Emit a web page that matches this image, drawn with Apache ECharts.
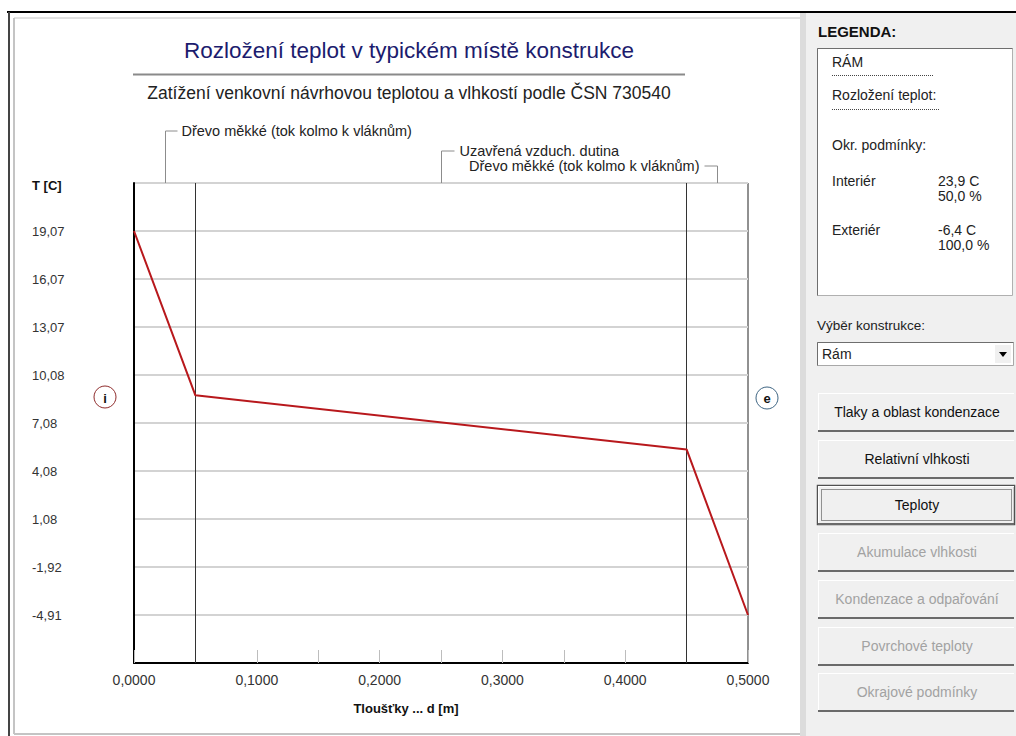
<!DOCTYPE html>
<html>
<head>
<meta charset="utf-8">
<script src="https://cdn.jsdelivr.net/npm/echarts@6/dist/echarts.min.js"></script>
<style>
  html, body { margin: 0; padding: 0; background: #ffffff; }
  #chart { width: 1016px; height: 736px; }
</style>
</head>
<body>
<div id="chart"></div>
<script>
// Wall section: layer interfaces [m] and the layer materials between them
const layerBounds = [0, 0.05, 0.45, 0.5];
const layerNames = [
  'Dřevo měkké (tok kolmo k vláknům)',
  'Uzavřená vzduch. dutina',
  'Dřevo měkké (tok kolmo k vláknům)'
];

// Temperature profile through the section
const thickness = [0, 0.05, 0.45, 0.5];          // d [m]
const temperature = [19.07, 8.81, 5.43, -4.91];   // T [C]

// Axis tick labels
const yTickValues = [-4.91, -1.92, 1.08, 4.08, 7.08, 10.08, 13.07, 16.07, 19.07];
const xTickValues = [0, 0.1, 0.2, 0.3, 0.4, 0.5];

// Texts
const titleText = 'Rozložení teplot v typickém místě konstrukce';
const subtitleText = 'Zatížení venkovní návrhovou teplotou a vlhkostí podle ČSN 730540';
const yAxisTitle = 'T [C]';
const xAxisTitle = 'Tloušťky ... d [m]';

// Side panel: boundary conditions and commands
const legendTitle = 'LEGENDA:';
const constructionName = 'RÁM';
const legendHeading = 'Rozložení teplot:';
const conditionsHeading = 'Okr. podmínky:';
const conditionNames = ['Interiér', 'Exteriér'];
const conditionTemps = ['23,9 C', '-6,4 C'];
const conditionHumidity = ['50,0 %', '100,0 %'];
const selectorLabel = 'Výběr konstrukce:';
const selectorValue = 'Rám';
const buttonLabels = [
  'Tlaky a oblast kondenzace',
  'Relativní vlhkosti',
  'Teploty',
  'Akumulace vlhkosti',
  'Kondenzace a odpařování',
  'Povrchové teploty',
  'Okrajové podmínky'
];
const buttonEnabled = [true, true, true, false, false, false, false];
const activeButton = 2;

const FONT = '"Liberation Sans", Arial, sans-serif';
const comma = (v, n) => v.toFixed(n).replace('.', ',');

const step = (yTickValues[yTickValues.length - 1] - yTickValues[0]) / (yTickValues.length - 1);
const yMin = yTickValues[0] - step;
const yMax = yMin + (yTickValues.length + 1) * step;

const chart = echarts.init(document.getElementById('chart'), null, { renderer: 'svg' });

chart.setOption({
  animation: false,
  grid: {
    left: 134, top: 183, width: 614, height: 480,
    show: true, backgroundColor: '#ffffff', borderColor: '#222222', borderWidth: 1
  },
  xAxis: {
    type: 'value', min: 0, max: 0.5, interval: 0.05,
    axisLine: { onZero: false, lineStyle: { color: '#000000', width: 2 } },
    axisTick: { inside: true, length: 13, lineStyle: { color: '#bdbdbd', width: 1 } },
    splitLine: { show: false },
    axisLabel: {
      margin: 10, fontSize: 14, color: '#333333', fontFamily: FONT,
      formatter: v => {
        const hit = xTickValues.find(t => Math.abs(t - v) < 1e-9);
        return hit === undefined ? '' : comma(hit, 4);
      }
    }
  },
  yAxis: {
    type: 'value', min: yMin, max: yMax, interval: step,
    axisLine: { show: true, onZero: false, lineStyle: { color: '#000000', width: 2 } },
    axisTick: { show: false },
    splitLine: { lineStyle: { color: '#d3d3d3', width: 2 } },
    axisLabel: {
      margin: 102, align: 'left', fontSize: 13, color: '#333333', fontFamily: FONT,
      formatter: v => {
        const i = Math.round((v - yMin) / step) - 1;
        return (i >= 0 && i < yTickValues.length) ? comma(yTickValues[i], 2) : '';
      }
    }
  },
  series: [{
    type: 'line',
    data: thickness.map((d, i) => [d, temperature[i]]),
    symbol: 'none',
    lineStyle: { color: '#b8181c', width: 2 },
    z: 5,
    markLine: {
      silent: true, symbol: 'none', label: { show: false },
      lineStyle: { color: '#333333', width: 1, type: 'solid' },
      data: layerBounds.slice(1, -1).map(x => ({ xAxis: x }))
    }
  }]
});

// ---- decorations drawn around the plot ----
const g = [];
const txt = (x, y, text, o = {}) => g.push({
  type: 'text', x, y, silent: true, z: o.z || 10,
  style: {
    text, fill: o.fill || '#222222',
    font: (o.weight || 'normal') + ' ' + (o.size || 13) + 'px ' + FONT,
    align: o.align || 'left', verticalAlign: 'middle'
  }
});
const line = (x1, y1, x2, y2, stroke, w = 1, dash) => g.push({
  type: 'line', silent: true, z: 10,
  shape: { x1, y1, x2, y2 },
  style: { stroke, lineWidth: w, lineDash: dash || null }
});
const rect = (x, y, w, h, fill, stroke, lw = 1, z = 1) => g.push({
  type: 'rect', silent: true, z,
  shape: { x, y, width: w, height: h },
  style: { fill: fill || 'none', stroke: stroke || 'none', lineWidth: lw }
});

// window frame
rect(806, 13, 210, 723, '#f0f0f0', null, 0, 0);
rect(800, 13, 6, 723, '#dcdcdc', null, 0, 0);
line(7, 12, 1016, 12, '#000000', 2);
line(9, 12, 9, 736, '#444444', 2);
line(14, 18, 14, 734, '#c4c4c4', 2);
line(14, 18, 800, 18, '#c4c4c4', 1);
line(14, 734, 800, 734, '#c4c4c4', 2);

// titles
const headCx = 409;
txt(headCx, 50, titleText, { size: 22.5, fill: '#1c1c6e', align: 'center' });
line(133, 74.5, 685, 74.5, '#8a8a8a', 2);
txt(headCx, 93, subtitleText, { size: 17.5, fill: '#222222', align: 'center' });

// axis titles
txt(32, 185, yAxisTitle, { size: 13, weight: 'bold', fill: '#111111' });
txt(406, 708, xAxisTitle, { size: 13, weight: 'bold', fill: '#111111', align: 'center' });

// layer names with leader hooks pointing to each layer's middle
const plotTop = 183;
const mid = i => chart.convertToPixel({ xAxisIndex: 0 }, (layerBounds[i] + layerBounds[i + 1]) / 2);
const hookColor = '#8c8c8c';
const layerFont = 14.5;
{
  const x = Math.round(mid(0)) + 0.5, y = 131;
  line(x, y, x, plotTop, hookColor); line(x, y, x + 12, y, hookColor);
  txt(x + 16, y, layerNames[0], { size: layerFont });
}
{
  const x = Math.round(mid(1)) + 0.5, y = 151;
  line(x, y, x, plotTop, hookColor); line(x, y, x + 13, y, hookColor);
  txt(x + 18, y, layerNames[1], { size: layerFont });
}
{
  const x = Math.round(mid(2)) + 0.5, y = 166;
  line(x, y, x, plotTop, hookColor); line(x - 13, y, x, y, hookColor);
  txt(x - 18, y, layerNames[2], { size: layerFont, align: 'right' });
}

// interior / exterior markers
g.push({ type: 'circle', silent: true, z: 10, shape: { cx: 105, cy: 397, r: 11 },
  style: { fill: '#ffffff', stroke: '#8e2a2a', lineWidth: 1 } });
txt(105, 398, 'i', { size: 13, weight: 'bold', fill: '#111111', align: 'center' });
g.push({ type: 'circle', silent: true, z: 10, shape: { cx: 767, cy: 398, r: 11 },
  style: { fill: '#ffffff', stroke: '#3d6482', lineWidth: 1 } });
txt(767, 398, 'e', { size: 13, weight: 'bold', fill: '#111111', align: 'center' });

// legend box
txt(818, 31, legendTitle, { size: 15, weight: 'bold', fill: '#111111' });
rect(817.5, 48.5, 195, 247, '#ffffff', '#b0b0b0', 1, 2);
line(817.5, 48.5, 1012.5, 48.5, '#6e6e6e', 1);
line(817.5, 48.5, 817.5, 295.5, '#6e6e6e', 1);
txt(832, 62, constructionName, { size: 14 });
line(832, 75.5, 934, 75.5, '#444444', 1, [1, 1]);
txt(832, 95, legendHeading, { size: 14 });
line(832, 109.5, 940, 109.5, '#444444', 1, [1, 1]);
txt(832, 145, conditionsHeading, { size: 14 });
conditionNames.forEach((n, i) => {
  const y = 181 + i * 49;
  txt(832, y, n, { size: 14 });
  txt(938, y, conditionTemps[i], { size: 14 });
  txt(938, y + 15, conditionHumidity[i], { size: 14 });
});

// construction selector
txt(817, 325, selectorLabel, { size: 13.5 });
rect(817.5, 342.5, 196, 23, '#ffffff', '#a8a8a8', 1, 2);
line(817.5, 342.5, 1013.5, 342.5, '#6e6e6e', 1);
line(817.5, 342.5, 817.5, 365.5, '#6e6e6e', 1);
txt(822, 354, selectorValue, { size: 14 });
rect(995, 345, 16, 18, '#f0f0f0', null, 0, 3);
g.push({ type: 'polygon', silent: true, z: 10,
  shape: { points: [[999, 352], [1007, 352], [1003, 357]] }, style: { fill: '#000000' } });

// command buttons
buttonLabels.forEach((label, i) => {
  const y = Math.round(393 + i * 46.7);
  const h = 38;
  rect(818, y, 196, h, '#f0f0f0', null, 0, 2);
  line(818, y + 0.5, 1014, y + 0.5, '#ffffff', 1);
  line(818.5, y, 818.5, y + h, '#ffffff', 1);
  line(818, y + h, 1014, y + h, '#6a6a6a', 2);
  if (i === activeButton) {
    rect(817.5, y - 0.5, 197, h + 1, 'none', '#505050', 1.5, 4);
    rect(821.5, y + 3.5, 190, h - 7, 'none', '#333333', 1, 5);
    g[g.length - 1].style.lineDash = [1, 1];
  }
  txt(917, y + 19, label, {
    size: 14, align: 'center', fill: buttonEnabled[i] ? '#111111' : '#a2a2a2'
  });
});

chart.setOption({ graphic: g });
</script>
</body>
</html>
